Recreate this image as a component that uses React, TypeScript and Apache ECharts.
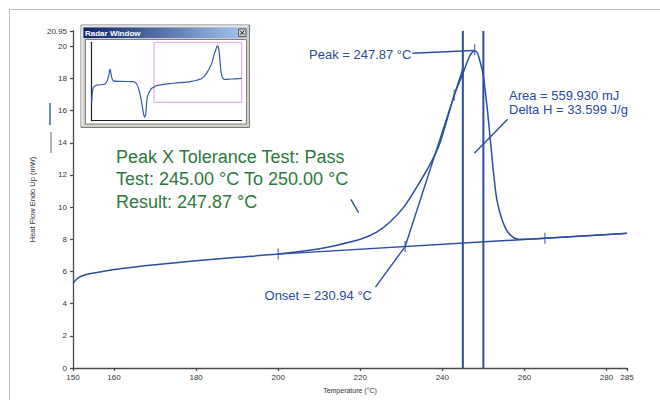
import React, { useEffect, useRef } from 'react';
import * as echarts from 'echarts';

// Main DSC curve (temperature °C, heat flow mW)
const curveT = [150, 151, 152, 154, 157, 160, 165, 170, 180, 190, 200, 208, 214, 220, 224, 227.3, 230.6, 233.8, 237.1, 239.5, 242.9, 245, 246.4, 247.2, 247.87, 248.6, 249.1, 249.9, 250.9, 251.7, 252.5, 253.3, 254.6, 256.2, 258.6, 262, 265, 275, 285];
const curveV = [5.26, 5.55, 5.7, 5.86, 5.98, 6.12, 6.28, 6.42, 6.66, 6.88, 7.08, 7.33, 7.62, 8.0, 8.45, 9.09, 10.0, 11.26, 12.7, 14.05, 16.96, 18.3, 19.24, 19.6, 19.72, 19.55, 19.13, 18.3, 16.23, 14.16, 12.09, 10.43, 9.19, 8.37, 8.0, 8.02, 8.07, 8.22, 8.37];

// Earlier part of the run, shown only in the radar (overview) window
const preT = [54, 56.5, 61.7, 74.5, 79.6, 82.2, 84.8, 87.3, 97.5, 118, 123.2, 127.2, 130.9, 133.4, 135.5, 137.5, 139.5, 143.7, 147];
const preV = [0, 5.2, 6.0, 6.4, 8.7, 11.6, 8.7, 7.5, 7.3, 7.2, 6.4, 4.05, 0, -3.5, -5.2, -3.5, 1.75, 4.05, 5.0];

// Zoomed region shown by the radar window's box
const radarBoxT = [150, 285];
const radarBoxV = [0, 20.95];

const baselineT = [200, 285];
const baselineV = [7.08, 8.37];
const tangentT = [230.94, 245];
const tangentV = [7.55, 18.6];
const limitTemps = [245, 250];
const markerT = [200, 265, 230.94, 242.9, 247.87];
const markerV = [7.08, 8.07, 7.55, 16.96, 19.78];
const peakLeaderT = [232.7, 247.6];
const peakLeaderV = [19.57, 19.74];
const areaLeaderT = [255.9, 247.8];
const areaLeaderV = [15.47, 13.35];
const onsetLeaderT = [230.94, 223.7];
const onsetLeaderV = [7.55, 5.03];
const resultLeaderT = [217.7, 219.6];
const resultLeaderV = [10.48, 9.65];

const xTickLabels = [150, 160, 180, 200, 220, 240, 260, 280, 285];
const yTickLabels = [0, 2, 4, 6, 8, 10, 12, 14, 16, 18, 20, 20.95];

const zip = (a: number[], b: number[]) => a.map((v, i) => [v, b[i]]);

const BLUE = '#2c4da0';
const TEXT_BLUE = '#2a4a9c';
const GREEN = '#2b7a3b';
const FONT = 'Liberation Sans, Arial, sans-serif';

export default function App() {
  const ref = useRef<HTMLDivElement>(null);
  useEffect(() => {
    if (!ref.current) return;
    const chart = echarts.init(ref.current, undefined, { renderer: 'svg' });
    const axisLineStyle = { color: '#4a4a4a', width: 1.3 };
    const lineSeries = (data: number[][], width = 1.4, extra: any = {}) => ({
      type: 'line',
      xAxisIndex: 0,
      yAxisIndex: 0,
      data,
      showSymbol: false,
      symbol: 'none',
      silent: true,
      lineStyle: { color: BLUE, width },
      ...extra,
    });
    const [bx0, bx1] = radarBoxT;
    const [by0, by1] = radarBoxV;
    const option: any = {
      animation: false,
      backgroundColor: '#ffffff',
      textStyle: { fontFamily: FONT },
      grid: [
        { left: 73, top: 31, width: 554, height: 337 },
        { left: 91.7, top: 42.3, width: 150, height: 78.4, z: 60 },
      ],
      xAxis: [
        {
          type: 'value',
          gridIndex: 0,
          min: 150,
          max: 285,
          name: 'Temperature (°C)',
          nameLocation: 'middle',
          nameGap: 19,
          nameTextStyle: { fontSize: 7, color: '#333', fontFamily: FONT },
          axisLine: { show: true, onZero: false, lineStyle: axisLineStyle },
          axisTick: { show: true, length: 3, customValues: xTickLabels, lineStyle: axisLineStyle },
          axisLabel: { customValues: xTickLabels, fontSize: 8, color: '#333', margin: 5, fontFamily: FONT },
          splitLine: { show: false },
        },
        {
          type: 'value',
          gridIndex: 1,
          min: 54,
          max: 285,
          z: 60,
          axisLine: { show: true, onZero: false, lineStyle: { color: '#222', width: 1.2 } },
          axisTick: { show: false },
          axisLabel: { show: false },
          splitLine: { show: false },
        },
      ],
      yAxis: [
        {
          type: 'value',
          gridIndex: 0,
          min: 0,
          max: 20.95,
          name: 'Heat Flow Endo Up (mW)',
          nameLocation: 'middle',
          nameRotate: 90,
          nameGap: 20,
          nameTextStyle: { fontSize: 7.5, color: '#333', fontFamily: FONT },
          axisLine: { show: true, onZero: false, lineStyle: axisLineStyle },
          axisTick: { show: true, length: 3, customValues: yTickLabels, lineStyle: axisLineStyle },
          axisLabel: {
            customValues: yTickLabels,
            fontSize: 8,
            color: '#333',
            margin: 6,
            fontFamily: FONT,
            formatter: (v: number) => (Number.isInteger(v) ? String(v) : v.toFixed(2)),
          },
          splitLine: { show: false },
        },
        {
          type: 'value',
          gridIndex: 1,
          min: -6.4,
          max: 20.95,
          z: 60,
          axisLine: { show: true, onZero: false, lineStyle: { color: '#222', width: 1.2 } },
          axisTick: { show: false },
          axisLabel: { show: false },
          splitLine: { show: false },
        },
      ],
      series: [
        lineSeries(zip(curveT, curveV), 1.5, { smooth: 0.3 }),
        lineSeries(zip(baselineT, baselineV), 1.4),
        lineSeries(zip(tangentT, tangentV), 1.4),
        lineSeries(zip(peakLeaderT, peakLeaderV), 1.4),
        lineSeries(zip(areaLeaderT, areaLeaderV), 1.4),
        lineSeries(zip(onsetLeaderT, onsetLeaderV), 1.4),
        lineSeries(zip(resultLeaderT, resultLeaderV), 1.4),
        ...limitTemps.map((t) => lineSeries([[t, 0], [t, 20.95]], 2)),
        {
          type: 'scatter',
          xAxisIndex: 0,
          yAxisIndex: 0,
          data: zip(markerT, markerV),
          symbol: 'rect',
          symbolSize: [1.2, 11],
          silent: true,
          itemStyle: { color: BLUE },
        },
        {
          type: 'line',
          xAxisIndex: 1,
          yAxisIndex: 1,
          z: 61,
          data: [[bx0, by0], [bx0, by1], [bx1, by1], [bx1, by0], [bx0, by0]],
          showSymbol: false,
          symbol: 'none',
          silent: true,
          lineStyle: { color: '#dba3da', width: 1 },
        },
        {
          type: 'line',
          xAxisIndex: 1,
          yAxisIndex: 1,
          z: 62,
          data: zip(preT.concat(curveT), preV.concat(curveV)),
          showSymbol: false,
          symbol: 'none',
          smooth: 0.3,
          silent: true,
          lineStyle: { color: '#3658ad', width: 1.2 },
        },
      ],
      graphic: [
        {
          type: 'rect',
          z: 0,
          shape: { x: 9.5, y: 9.5, width: 700, height: 420 },
          style: { fill: 'none', stroke: '#bdbdbd', lineWidth: 1 },
        },
        { type: 'line', shape: { x1: 50, y1: 103, x2: 50, y2: 125 }, style: { stroke: '#4a6cc0', lineWidth: 1.6 } },
        { type: 'line', shape: { x1: 51, y1: 132, x2: 51, y2: 153 }, style: { stroke: '#666', lineWidth: 1 } },
        {
          type: 'text',
          x: 309,
          y: 54.3,
          style: { text: 'Peak = 247.87 °C', fill: TEXT_BLUE, fontSize: 13, fontFamily: FONT, textVerticalAlign: 'middle', verticalAlign: 'middle' },
        },
        {
          type: 'text',
          x: 509,
          y: 88.5,
          style: { text: 'Area = 559.930 mJ\nDelta H = 33.599 J/g', fill: TEXT_BLUE, fontSize: 13, lineHeight: 14.3, fontFamily: FONT, textVerticalAlign: 'top', verticalAlign: 'top' },
        },
        {
          type: 'text',
          x: 372,
          y: 295,
          style: { text: 'Onset = 230.94 °C', fill: TEXT_BLUE, fontSize: 13, fontFamily: FONT, textAlign: 'right', align: 'right', textVerticalAlign: 'middle', verticalAlign: 'middle' },
        },
        {
          type: 'text',
          x: 116,
          y: 145.4,
          style: {
            text: 'Peak X Tolerance Test: Pass\nTest: 245.00 °C To 250.00 °C\nResult: 247.87 °C',
            fill: GREEN,
            fontSize: 18,
            lineHeight: 22.5,
            fontFamily: FONT,
            textVerticalAlign: 'top',
            verticalAlign: 'top',
          },
        },
        // Radar window chrome
        {
          type: 'rect',
          z: 50,
          shape: { x: 81, y: 25, width: 168.5, height: 102.5 },
          style: { fill: '#d4d0c8', stroke: '#7a7a7a', lineWidth: 1 },
        },
        {
          type: 'line',
          z: 50,
          shape: { x1: 82, y1: 26, x2: 248, y2: 26 },
          style: { stroke: '#ffffff', lineWidth: 1 },
        },
        {
          type: 'line',
          z: 50,
          shape: { x1: 82, y1: 26, x2: 82, y2: 126 },
          style: { stroke: '#ffffff', lineWidth: 1 },
        },
        {
          type: 'rect',
          z: 51,
          shape: { x: 83.5, y: 27.5, width: 164, height: 10.5 },
          style: {
            fill: new echarts.graphic.LinearGradient(0, 0, 1, 0, [
              { offset: 0, color: '#0a246a' },
              { offset: 1, color: '#a6caf0' },
            ]),
          },
        },
        {
          type: 'text',
          z: 52,
          x: 85,
          y: 33,
          style: { text: 'Radar Window', fill: '#ffffff', fontSize: 8, fontWeight: 'bold', fontFamily: FONT, textVerticalAlign: 'middle', verticalAlign: 'middle' },
        },
        {
          type: 'rect',
          z: 52,
          shape: { x: 238.5, y: 29, width: 7.5, height: 7.5 },
          style: { fill: '#d4d0c8', stroke: '#404040', lineWidth: 0.8 },
        },
        {
          type: 'line',
          z: 53,
          shape: { x1: 240.3, y1: 30.8, x2: 244.2, y2: 34.7 },
          style: { stroke: '#000', lineWidth: 0.9 },
        },
        {
          type: 'line',
          z: 53,
          shape: { x1: 244.2, y1: 30.8, x2: 240.3, y2: 34.7 },
          style: { stroke: '#000', lineWidth: 0.9 },
        },
        {
          type: 'rect',
          z: 51,
          shape: { x: 85.5, y: 39.5, width: 161, height: 84.5 },
          style: { fill: '#ffffff', stroke: '#808080', lineWidth: 1 },
        },
      ],
    };
    chart.setOption(option);
    return () => chart.dispose();
  }, []);
  return <div ref={ref} style={{ position: 'absolute', left: 0, top: 0, width: 660, height: 400 }} />;
}
